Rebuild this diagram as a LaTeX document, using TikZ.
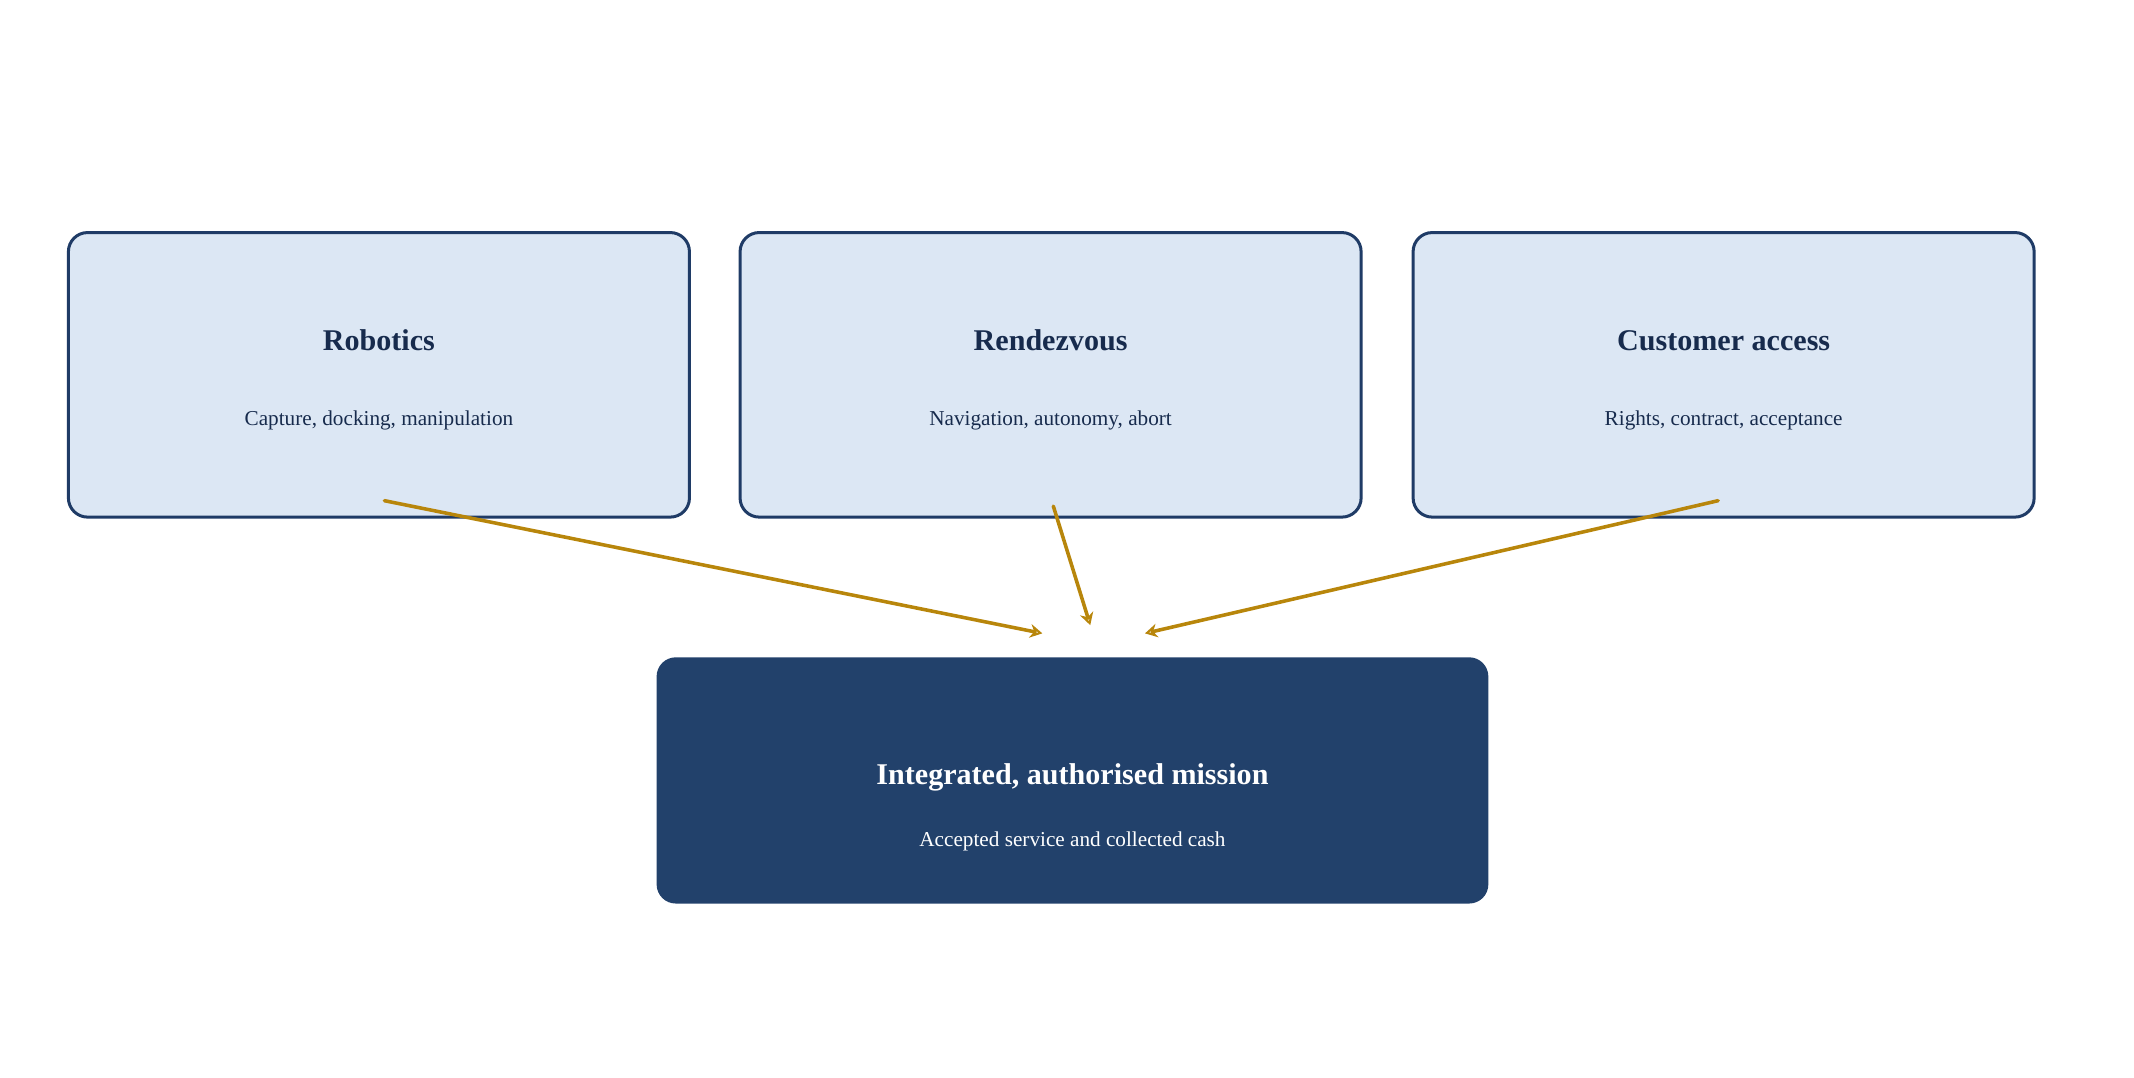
\documentclass[tikz,border=0pt]{standalone}
\usepackage{fontspec}
\setmainfont{Liberation Serif}
\usetikzlibrary{arrows.meta}
\definecolor{boxfill}{HTML}{DCE7F4}
\definecolor{boxline}{HTML}{1F3B66}
\definecolor{navy}{HTML}{22416B}
\definecolor{txt}{HTML}{172B4D}
\definecolor{gold}{HTML}{B8860B}
\begin{document}
\begin{tikzpicture}[x=1pt,y=-1pt,
  box/.style={draw=boxline,line width=2.2pt,fill=boxfill,rounded corners=14pt,minimum width=454pt,minimum height=208pt,inner sep=0pt},
  dark/.style={fill=navy,rounded corners=14pt,minimum width=608pt,minimum height=180pt,inner sep=0pt},
  ttl/.style={font=\bfseries\fontsize{22}{26}\selectfont,text=txt},
  sub/.style={font=\fontsize{15.5}{19}\selectfont,text=txt},
  arr/.style={draw=gold,line width=2.6pt,line cap=round,-{Stealth[open,length=9pt,width=10pt,line width=2pt]}}]
\useasboundingbox (0,0) rectangle (1560,788);
\node[box] (b1) at (277,274) {};
\node[box] (b2) at (768,274) {};
\node[box] (b3) at (1260,274) {};
\node[dark] (m) at (784,570.5) {};
\node[ttl] (t1) at (277,249) {Robotics};
\node[sub] (s1) at (277,307) {Capture, docking, manipulation};
\node[ttl] (t2) at (768,249) {Rendezvous};
\node[sub] (s2) at (768,307) {Navigation, autonomy, abort};
\node[ttl] (t3) at (1260,249) {Customer access};
\node[sub] (s3) at (1260,307) {Rights, contract, acceptance};
\node[ttl,text=white] (tm) at (784,568) {Integrated, authorised mission};
\node[sub,text=white] (sm) at (784,615) {Accepted service and collected cash};
\coordinate (a1) at (281,366); \coordinate (e1) at (762,463);
\coordinate (a2) at (770,370); \coordinate (e2) at (797,457);
\coordinate (a3) at (1256,366); \coordinate (e3) at (837,463);
\draw[arr] (a1) -- (e1);
\draw[arr] (a2) -- (e2);
\draw[arr] (a3) -- (e3);
\end{tikzpicture}
\end{document}
